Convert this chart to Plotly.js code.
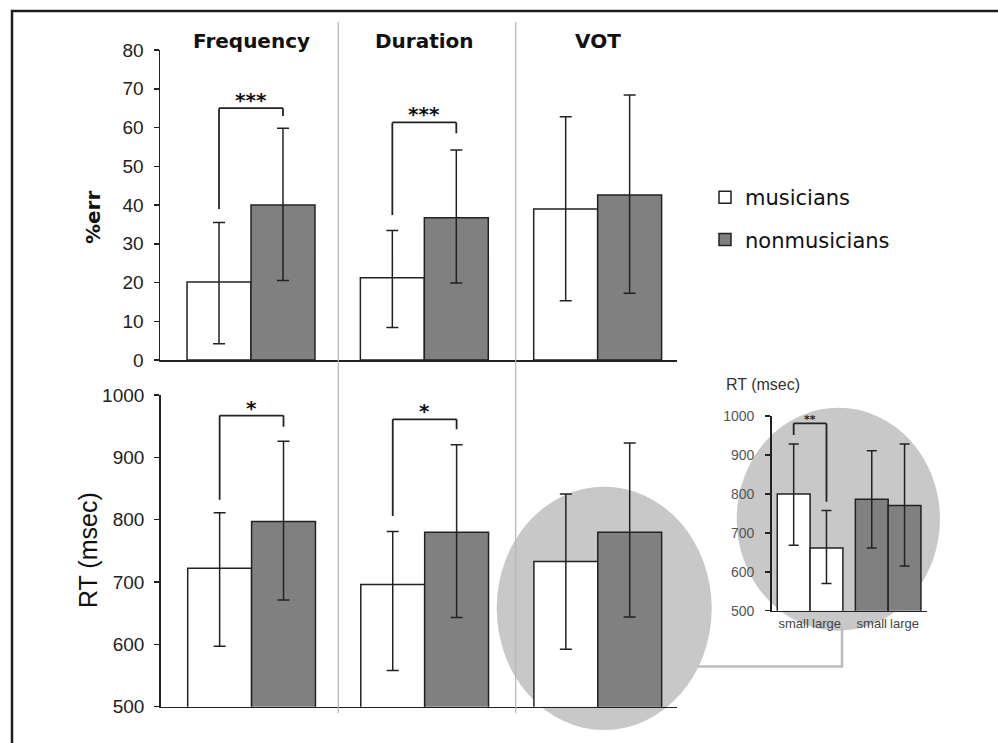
<!DOCTYPE html>
<html><head><meta charset="utf-8">
<script src="https://cdn.plot.ly/plotly-3.0.1.min.js"></script>
<style>html,body{margin:0;padding:0;background:#fff;overflow:hidden}#chart{width:998px;height:743px}</style>
</head><body><div id="chart"></div>
<script>
// ---------- data ----------
const categories = ["Frequency", "Duration", "VOT"];
const seriesNames = ["musicians", "nonmusicians"];

// top panel: % error
const errMusicians      = [20.1, 21.2, 39.0];
const errMusiciansHi    = [35.5, 33.4, 62.8];
const errMusiciansLo    = [4.2, 8.4, 15.3];
const errNonmusicians   = [40.0, 36.7, 42.6];
const errNonmusiciansHi = [59.8, 54.2, 68.4];
const errNonmusiciansLo = [20.5, 19.9, 17.2];

// bottom panel: RT (msec)
const rtMusicians      = [722, 696, 733];
const rtMusiciansHi    = [811, 781, 841];
const rtMusiciansLo    = [597, 558, 592];
const rtNonmusicians   = [797, 780, 780];
const rtNonmusiciansHi = [926, 920, 923];
const rtNonmusiciansLo = [671, 643, 644];

// inset: VOT RT by step size
const insetCats = ["small", "large"];
const insetMusicians      = [800, 661];
const insetMusiciansHi    = [928, 757];
const insetMusiciansLo    = [668, 570];
const insetNonmusicians   = [786, 770];
const insetNonmusiciansHi = [911, 928];
const insetNonmusiciansLo = [661, 615];

// significance brackets (category index, labels, heights in data units)
const errSigIdx = [0, 1];
const errSigLabels = ["***", "***"];
const errSigTop   = [65, 61.3];
const errSigLeft  = [39, 37.4];
const errSigRight = [63, 58.5];

const rtSigIdx = [0, 1];
const rtSigLabels = ["*", "*"];
const rtSigTop   = [967, 961];
const rtSigLeft  = [832, 806];
const rtSigRight = [949, 945];

const insetSigLabel = "**";
const insetSigTop = 981;
const insetSigLeft = 951;
const insetSigRight = 780;

const yTitleTop = "%err";
const yTitleBottom = "RT (msec)";
const insetTitle = "RT (msec)";

// ---------- layout helpers ----------
const W = 998, H = 743;
const X = px => px / W;
const Y = py => 1 - py / H;

const BARGAP = 0.262;
const OFF = (1 - BARGAP) / 4;
const INSET_GROUP_GAP = 0.38;

const TICKFONT = {family: "Liberation Sans Narrow, Liberation Sans, Arial, sans-serif", size: 19, color: "#222"};
const BOLD = "DejaVu Sans, Verdana, sans-serif";
const WHITE = "#ffffff", GRAY = "#808080", INK = "#222222";

function errBars(v, hi, lo, w) {
  return {type: "data", symmetric: false,
    array: hi.map((h, i) => h - v[i]),
    arrayminus: v.map((x, i) => x - lo[i]),
    color: INK, thickness: 1.5, width: w};
}
function barTrace(x, y, hi, lo, name, color, xa, ya, show, extra) {
  return Object.assign({
    type: "bar", x: x, y: y, name: name, xaxis: xa, yaxis: ya,
    marker: {color: color, line: {color: INK, width: 1.5}},
    error_y: errBars(y, hi, lo, 6),
    showlegend: show, legendgroup: name, hoverinfo: "skip"
  }, extra || {});
}

const insetMusX = insetCats.map((c, i) => i);
const insetNonX = insetCats.map((c, i) => i + insetCats.length + INSET_GROUP_GAP);

const data = [
  barTrace(categories, errMusicians, errMusiciansHi, errMusiciansLo, seriesNames[0], WHITE, "x", "y", true),
  barTrace(categories, errNonmusicians, errNonmusiciansHi, errNonmusiciansLo, seriesNames[1], GRAY, "x", "y", true),
  barTrace(categories, rtMusicians, rtMusiciansHi, rtMusiciansLo, seriesNames[0], WHITE, "x2", "y2", false),
  barTrace(categories, rtNonmusicians, rtNonmusiciansHi, rtNonmusiciansLo, seriesNames[1], GRAY, "x2", "y2", false),
  barTrace(insetMusX, insetMusicians, insetMusiciansHi, insetMusiciansLo, seriesNames[0], WHITE, "x3", "y3", false,
    {offsetgroup: "inset", width: 1, error_y: errBars(insetMusicians, insetMusiciansHi, insetMusiciansLo, 5)}),
  barTrace(insetNonX, insetNonmusicians, insetNonmusiciansHi, insetNonmusiciansLo, seriesNames[1], GRAY, "x3", "y3", false,
    {offsetgroup: "inset", width: 1, error_y: errBars(insetNonmusicians, insetNonmusiciansHi, insetNonmusiciansLo, 5)})
];

// ---------- shapes ----------
const shapes = [];
shapes.push({type: "circle", xref: "paper", yref: "paper", x0: X(496.7), x1: X(711.7), y0: Y(730), y1: Y(486.7),
  fillcolor: "#c8c8c8", line: {width: 0}, layer: "below"});
shapes.push({type: "circle", xref: "paper", yref: "paper", x0: X(736.7), x1: X(940), y0: Y(630.7), y1: Y(407.7),
  fillcolor: "#c8c8c8", line: {width: 0}, layer: "below"});
shapes.push({type: "path", xref: "paper", yref: "paper",
  path: `M${X(698)},${Y(666.5)} L${X(842)},${Y(666.5)} L${X(842)},${Y(628)}`,
  line: {color: "#bdbdbd", width: 2.5}, layer: "below"});
[338.3, 515.7].forEach(px => shapes.push({type: "line", xref: "paper", yref: "paper",
  x0: X(px), x1: X(px), y0: Y(22), y1: Y(713), line: {color: "#b4b4b4", width: 1.2}}));
// outer frame (only its top and left sides fall inside the picture)
shapes.push({type: "path", xref: "paper", yref: "paper",
  path: `M${X(12)},${Y(760)} L${X(12)},${Y(11)} L${X(1010)},${Y(11)}`,
  line: {color: "#1e1e1e", width: 2.5}});

function bracket(xa, ya, xl, xr, top, left, right) {
  const ln = {color: INK, width: 1.8};
  shapes.push({type: "line", xref: xa, yref: ya, x0: xl, x1: xl, y0: left, y1: top, line: ln});
  shapes.push({type: "line", xref: xa, yref: ya, x0: xl, x1: xr, y0: top, y1: top, line: ln});
  shapes.push({type: "line", xref: xa, yref: ya, x0: xr, x1: xr, y0: top, y1: right, line: ln});
}
errSigIdx.forEach((ci, k) => bracket("x", "y", ci - OFF, ci + OFF, errSigTop[k], errSigLeft[k], errSigRight[k]));
rtSigIdx.forEach((ci, k) => bracket("x2", "y2", ci - OFF, ci + OFF, rtSigTop[k], rtSigLeft[k], rtSigRight[k]));
bracket("x3", "y3", insetMusX[0], insetMusX[1], insetSigTop, insetSigLeft, insetSigRight);

// ---------- annotations ----------
const annotations = [];
const titleFont = {family: BOLD, size: 20, color: "#111", weight: "bold"};
categories.forEach((c, i) => annotations.push({xref: "x", yref: "paper", x: i, y: Y(41), text: c,
  showarrow: false, font: titleFont, xanchor: "center", yanchor: "middle"}));
errSigIdx.forEach((ci, k) => annotations.push({xref: "x", yref: "y", x: ci, y: errSigTop[k], text: errSigLabels[k],
  showarrow: false, xanchor: "center", yanchor: "bottom", yshift: -6, font: titleFont}));
rtSigIdx.forEach((ci, k) => annotations.push({xref: "x2", yref: "y2", x: ci, y: rtSigTop[k], text: rtSigLabels[k],
  showarrow: false, xanchor: "center", yanchor: "bottom", yshift: -6, font: titleFont}));
annotations.push({xref: "x3", yref: "y3", x: (insetMusX[0] + insetMusX[1]) / 2, y: insetSigTop, text: insetSigLabel,
  showarrow: false, xanchor: "center", yanchor: "bottom", yshift: -5, font: {family: BOLD, size: 11, color: "#222", weight: "bold"}});
annotations.push({xref: "paper", yref: "paper", x: X(92.5), y: Y(217.5), text: yTitleTop, textangle: -90,
  xanchor: "center", yanchor: "middle", showarrow: false, font: titleFont});
annotations.push({xref: "paper", yref: "paper", x: X(88), y: Y(550), text: yTitleBottom, textangle: -90,
  xanchor: "center", yanchor: "middle", showarrow: false,
  font: {family: "Liberation Sans, Arial, sans-serif", size: 25, color: "#111"}});
annotations.push({xref: "paper", yref: "paper", x: X(724), y: Y(384), xanchor: "left", yanchor: "middle", text: insetTitle,
  showarrow: false, font: {family: "Liberation Sans, Arial, sans-serif", size: 16, color: "#333"}});

// ---------- axes ----------
function yAxis(dom, range, dtick, font, anchor, standoff, len) {
  return {domain: dom, range: range, dtick: dtick, tick0: range[0], anchor: anchor,
    showline: true, linecolor: INK, linewidth: 1.5, ticks: "outside", ticklen: len, tickwidth: 1.5, tickcolor: INK,
    showgrid: false, zeroline: false, tickfont: font, ticklabelstandoff: standoff, fixedrange: true};
}
function xAxis(dom, range, anchor, extra) {
  return Object.assign({domain: dom, range: range, anchor: anchor, showline: true, linecolor: INK, linewidth: 1.5,
    ticks: "", showgrid: false, zeroline: false, showticklabels: false, fixedrange: true}, extra || {});
}

const mainRange = [-0.525, 2.456];
const layout = {
  width: W, height: H, margin: {l: 0, r: 0, t: 0, b: 0},
  paper_bgcolor: "#ffffff", plot_bgcolor: "rgba(0,0,0,0)",
  barmode: "group", bargap: BARGAP, bargroupgap: 0,
  xaxis:  xAxis([X(160), X(676.7)], mainRange, "y", {type: "category"}),
  yaxis:  yAxis([Y(360), Y(50)], [0, 80], 10, TICKFONT, "x", 6, 5),
  xaxis2: xAxis([X(160.7), X(676.7)], mainRange, "y2", {type: "category"}),
  yaxis2: yAxis([Y(706.7), Y(395)], [500, 1000], 100, TICKFONT, "x2", 6, 5),
  xaxis3: xAxis([X(771.7), X(926.7)], [-0.67, 4.055], "y3", {
    showticklabels: true, tickmode: "array", tickangle: 0,
    tickvals: insetMusX.concat(insetNonX), ticktext: insetCats.concat(insetCats),
    tickfont: {family: "Liberation Sans, Arial, sans-serif", size: 13, color: "#444"}}),
  yaxis3: yAxis([Y(610.7), Y(416)], [500, 1000], 100,
    {family: "Liberation Sans, Arial, sans-serif", size: 14, color: "#555"}, "x3", 8, 5),
  showlegend: true,
  legend: {x: X(705), y: Y(177), xanchor: "left", yanchor: "top", traceorder: "grouped", tracegroupgap: 12,
    bgcolor: "rgba(0,0,0,0)", font: {family: BOLD, size: 21, color: "#111"}},
  shapes: shapes, annotations: annotations
};

Plotly.newPlot("chart", data, layout, {displayModeBar: false, staticPlot: true});
</script></body></html>
